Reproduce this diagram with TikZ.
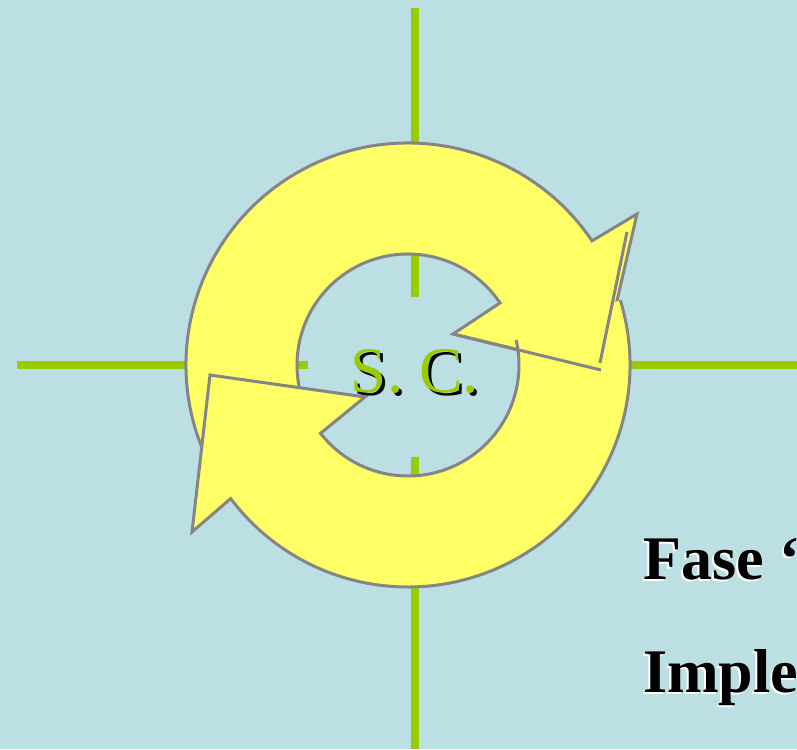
\documentclass[tikz,border=0pt]{standalone}
\usepackage{fontspec}
\setmainfont{Liberation Serif}
\definecolor{scbg}{HTML}{BBDFE3}
\definecolor{scyellow}{HTML}{FFFF66}
\definecolor{scgray}{HTML}{858585}
\definecolor{scgreen}{HTML}{99CC00}
\tikzset{
	axisline/.style={draw=scgreen, line width=8pt},
	ringfill/.style={fill=scyellow},
	ringline/.style={draw=scgray, line width=3pt},
	sclabel/.style={anchor=base, inner sep=0pt, font=\fontsize{65}{78}\selectfont},
	phaselabel/.style={anchor=base west, inner sep=0pt, font=\fontsize{62}{74}\selectfont\bfseries}
}

\begin{document}
\begin{tikzpicture}[x=1pt, y=1pt]
	% background and margins
	\fill[scbg] (-408,-384) rectangle (389,365);
	\useasboundingbox (-408,-384) rectangle (389,365);
	% green cross
	\draw[axisline] (7,357) -- (7,68);
	\draw[axisline] (7,-92) -- (7,-384);
	\draw[axisline] (-391,0) -- (-100,0);
	\draw[axisline] (114,0) -- (389,0);
	% upper arrow
	\filldraw[ringfill, ringline] (205:222pt) arc[start angle=205, end angle=34, radius=222pt]
		-- (229,151) -- (193,-5) -- (45,31) -- (34:111pt)
		arc[start angle=34, end angle=205, radius=111pt] -- cycle;
	% lower arrow
	\fill[ringfill] (17:222pt) arc[start angle=17, end angle=-143, radius=222pt]
		-- (-216,-167) -- (-198,-10) -- (-43,-32) -- (-142:111pt)
		arc[start angle=-142, end angle=13, radius=111pt] -- cycle;
	\draw[ringline] (17:222pt) arc[start angle=17, end angle=-143, radius=222pt]
		-- (-216,-167) -- (-198,-10) -- (-43,-32) -- (-142:111pt)
		arc[start angle=-142, end angle=13, radius=111pt];
	\draw[ringline] (45,31) -- (193,-5);
	\draw[ringline] (219,133) -- (192,2);
	% labels
	\node[sclabel, text=black] (scshadow) at (10,-31) {S. C.};
	\node[sclabel, text=scgreen] (sc) at (7,-28) {S. C.};
	\node[phaselabel, text=white] (faseshadow) at (233,-216) {Fase ‘};
	\node[phaselabel, text=black] (fase) at (235,-214) {Fase ‘};
	\node[phaselabel, text=white] (impshadow) at (233,-329) {Imple};
	\node[phaselabel, text=black] (imp) at (235,-327) {Imple};
\end{tikzpicture}
\end{document}
